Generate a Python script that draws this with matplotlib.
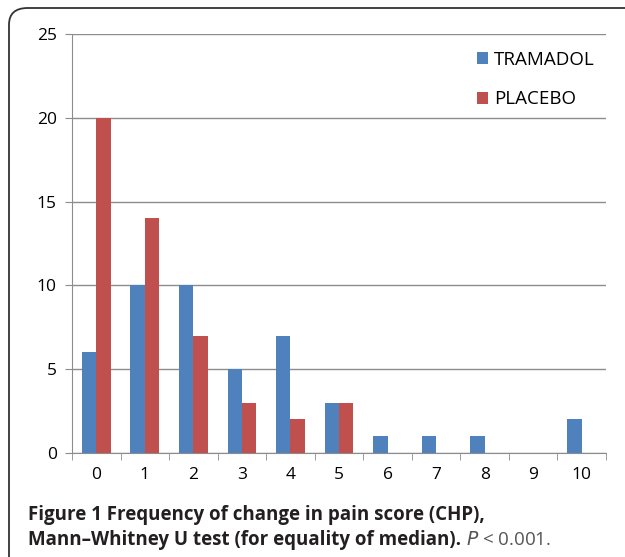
import numpy as np
import matplotlib.pyplot as plt
from matplotlib.patches import FancyBboxPatch

# 데이터
categories = ["0", "1", "2", "3", "4", "5", "6", "7", "8", "9", "10"]
tramadol = [6, 10, 10, 5, 7, 3, 1, 1, 1, 0, 2]
placebo = [20, 14, 7, 3, 2, 3, 0, 0, 0, 0, 0]

blue = "#4F81BD"
red = "#C0504D"
W, H = 625, 557

fig = plt.figure(figsize=(W / 100, H / 100), dpi=100)

# 바깥 둥근 테두리 (오른쪽/아래는 잘림)
box = FancyBboxPatch((9 / W, 1 - 8 / H - 600 / H), 700 / W, 600 / H,
                     boxstyle="round,pad=0,rounding_size=0.03",
                     transform=fig.transFigure, fill=False,
                     edgecolor="#333333", linewidth=1.3)
fig.patches.append(box)

# 축 영역 (픽셀 기준)
left, right, top, bottom = 72, 606, 34, 453
ax = fig.add_axes([left / W, 1 - bottom / H, (right - left) / W, (bottom - top) / H])

x = np.arange(len(categories))
w = 0.295
ax.bar(x - w / 2, tramadol, width=w, color=blue, label="TRAMADOL", zorder=3)
ax.bar(x + w / 2, placebo, width=w, color=red, label="PLACEBO", zorder=3)

ax.set_xlim(-0.5, len(categories) - 0.5)
ax.set_ylim(0, 25)
ax.set_yticks(range(0, 26, 5))
ax.yaxis.grid(True, color="#8c8c8c", linewidth=1.0, zorder=0)

ax.set_xticks(x)
ax.set_xticklabels(categories)
ax.set_xticks(np.arange(-0.5, len(categories), 1), minor=True)
ax.tick_params(axis="x", which="major", length=0, pad=10, labelsize=12.5)
ax.tick_params(axis="x", which="minor", length=5, color="#8c8c8c", direction="out")
ax.tick_params(axis="y", length=5, color="#8c8c8c", labelsize=12.5, pad=6)
for lab in ax.get_xticklabels() + ax.get_yticklabels():
    lab.set_fontfamily("Open Sans")

for s in ["top", "right"]:
    ax.spines[s].set_visible(False)
ax.spines["left"].set_color("#8c8c8c")
ax.spines["bottom"].set_color("#8c8c8c")

leg = ax.legend(loc="upper right", bbox_to_anchor=(1.01, 1.0), frameon=False,
                handlelength=0.6, handleheight=0.6, handletextpad=0.3,
                labelspacing=1.15, prop={"family": "Open Sans", "size": 13.5})

# 캡션
cx = 28 / W
fs = 13.5
fig.text(cx, 1 - 520 / H, "Figure 1 Frequency of change in pain score (CHP),",
         fontsize=fs, fontweight="bold", family="Open Sans", color="#231f20",
         va="baseline")
t = fig.text(cx, 1 - 545 / H,
             "Mann\u2013Whitney U test (for equality of median). ",
             fontsize=fs, fontweight="bold", family="Open Sans", color="#231f20",
             va="baseline")
fig.canvas.draw()
bb = t.get_window_extent()
fig.text(bb.x1 / W, 1 - 545 / H, "$P$ < 0.001.", fontsize=fs, family="Open Sans",
         color="#555555", va="baseline")

plt.savefig("out.png", dpi=100)
